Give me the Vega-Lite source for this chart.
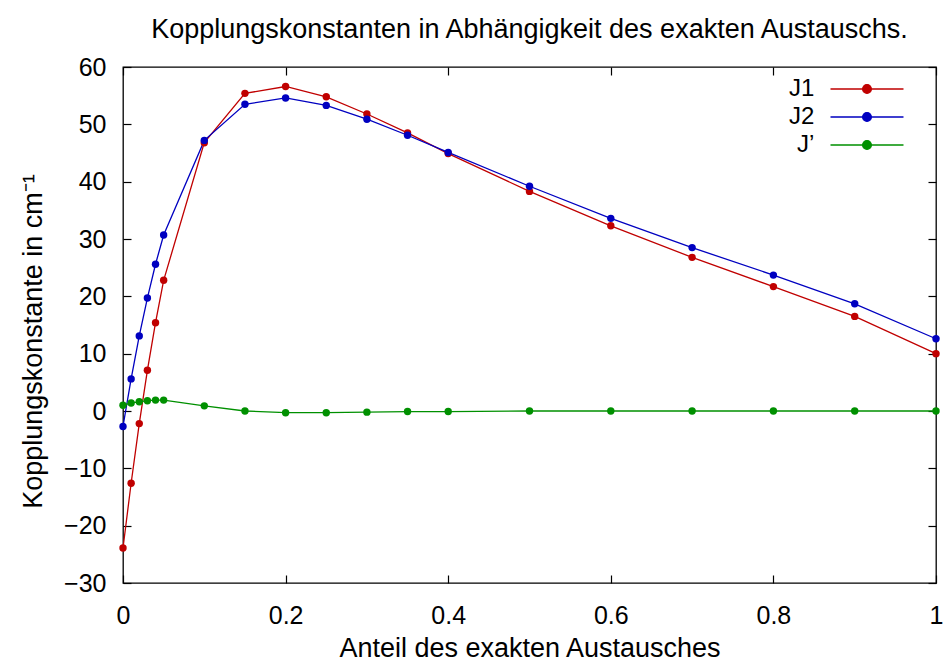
{
  "$schema": "https://vega.github.io/schema/vega-lite/v6.json",
  "width": 813,
  "height": 516,
  "autosize": {"type": "none"},
  "padding": {"left": 123, "top": 67, "right": 8, "bottom": 81},
  "background": "white",
  "title": {
    "text": "Kopplungskonstanten in Abhängigkeit des exakten Austauschs.",
    "fontSize": 27,
    "fontWeight": "normal",
    "font": "Liberation Sans",
    "color": "black",
    "anchor": "middle",
    "offset": 11
  },
  "data": {
    "values": [
      {"x": 0, "series": "J1", "value": -23.9},
      {"x": 0.01, "series": "J1", "value": -12.6},
      {"x": 0.02, "series": "J1", "value": -2.2},
      {"x": 0.03, "series": "J1", "value": 7.1},
      {"x": 0.04, "series": "J1", "value": 15.4},
      {"x": 0.05, "series": "J1", "value": 22.8},
      {"x": 0.1, "series": "J1", "value": 46.8},
      {"x": 0.15, "series": "J1", "value": 55.4},
      {"x": 0.2, "series": "J1", "value": 56.6},
      {"x": 0.25, "series": "J1", "value": 54.8},
      {"x": 0.3, "series": "J1", "value": 51.8},
      {"x": 0.35, "series": "J1", "value": 48.5},
      {"x": 0.4, "series": "J1", "value": 44.9},
      {"x": 0.5, "series": "J1", "value": 38.3},
      {"x": 0.6, "series": "J1", "value": 32.3},
      {"x": 0.7, "series": "J1", "value": 26.8},
      {"x": 0.8, "series": "J1", "value": 21.7},
      {"x": 0.9, "series": "J1", "value": 16.5},
      {"x": 1, "series": "J1", "value": 10.0},
      {"x": 0, "series": "J2", "value": -2.7},
      {"x": 0.01, "series": "J2", "value": 5.6},
      {"x": 0.02, "series": "J2", "value": 13.1},
      {"x": 0.03, "series": "J2", "value": 19.7},
      {"x": 0.04, "series": "J2", "value": 25.6},
      {"x": 0.05, "series": "J2", "value": 30.7},
      {"x": 0.1, "series": "J2", "value": 47.2},
      {"x": 0.15, "series": "J2", "value": 53.5},
      {"x": 0.2, "series": "J2", "value": 54.6},
      {"x": 0.25, "series": "J2", "value": 53.3},
      {"x": 0.3, "series": "J2", "value": 50.9},
      {"x": 0.35, "series": "J2", "value": 48.1},
      {"x": 0.4, "series": "J2", "value": 45.1},
      {"x": 0.5, "series": "J2", "value": 39.2},
      {"x": 0.6, "series": "J2", "value": 33.6},
      {"x": 0.7, "series": "J2", "value": 28.5},
      {"x": 0.8, "series": "J2", "value": 23.7},
      {"x": 0.9, "series": "J2", "value": 18.7},
      {"x": 1, "series": "J2", "value": 12.6},
      {"x": 0, "series": "J’", "value": 1.0},
      {"x": 0.01, "series": "J’", "value": 1.4},
      {"x": 0.02, "series": "J’", "value": 1.6},
      {"x": 0.03, "series": "J’", "value": 1.8},
      {"x": 0.04, "series": "J’", "value": 1.9},
      {"x": 0.05, "series": "J’", "value": 1.9},
      {"x": 0.1, "series": "J’", "value": 0.9},
      {"x": 0.15, "series": "J’", "value": 0.0},
      {"x": 0.2, "series": "J’", "value": -0.3},
      {"x": 0.25, "series": "J’", "value": -0.3},
      {"x": 0.3, "series": "J’", "value": -0.2},
      {"x": 0.35, "series": "J’", "value": -0.1},
      {"x": 0.4, "series": "J’", "value": -0.1},
      {"x": 0.5, "series": "J’", "value": 0.0},
      {"x": 0.6, "series": "J’", "value": 0.0},
      {"x": 0.7, "series": "J’", "value": 0.0},
      {"x": 0.8, "series": "J’", "value": 0.0},
      {"x": 0.9, "series": "J’", "value": 0.0},
      {"x": 1, "series": "J’", "value": 0.0}
    ]
  },
  "layer": [
    {
      "mark": {"type": "line", "strokeWidth": 1.3, "clip": false},
      "encoding": {
        "x": {
          "field": "x", "type": "quantitative",
          "scale": {"domain": [0, 1], "nice": false, "zero": false},
          "axis": {"orient": "top", "labels": false, "title": null, "values": [0, 0.2, 0.4, 0.6, 0.8, 1], "tickSize": -8, "domain": false, "grid": false}
        },
        "y": {
          "field": "value", "type": "quantitative",
          "scale": {"domain": [-30, 60], "nice": false, "zero": false},
          "axis": {"orient": "right", "labels": false, "title": null, "values": [-30, -20, -10, 0, 10, 20, 30, 40, 50, 60], "tickSize": -8, "domain": false, "grid": false}
        },
        "color": {
          "field": "series", "type": "nominal",
          "scale": {"domain": ["J1", "J2", "J’"], "range": ["#c00000", "#0000c0", "#009000"]}
        }
      }
    },
    {
      "mark": {"type": "point", "filled": true, "size": 55, "opacity": 1, "shape": "circle", "clip": false},
      "encoding": {
        "x": {
          "field": "x", "type": "quantitative",
          "axis": {"orient": "bottom", "title": "Anteil des exakten Austausches", "values": [0, 0.2, 0.4, 0.6, 0.8, 1], "format": "~g", "tickSize": -8, "labelPadding": 28, "labelFlush": false, "titlePadding": 7, "domain": false, "grid": false}
        },
        "y": {
          "field": "value", "type": "quantitative",
          "axis": {"orient": "left", "title": "Kopplungskonstante in cm⁻¹", "values": [-30, -20, -10, 0, 10, 20, 30, 40, 50, 60], "tickSize": -8, "labelPadding": 25, "labelFlush": false, "titleX": -76, "titleY": 274, "domain": false, "grid": false}
        },
        "color": {
          "field": "series", "type": "nominal"
        }
      }
    }
  ],
  "resolve": {"axis": {"x": "independent", "y": "independent"}},
  "config": {
    "view": {"stroke": "black", "strokeWidth": 1.3},
    "font": "Liberation Sans",
    "axis": {
      "labelFont": "Liberation Sans",
      "labelFontSize": 25,
      "labelColor": "black",
      "titleFont": "Liberation Sans",
      "titleFontSize": 27,
      "titleFontWeight": "normal",
      "titleColor": "black",
      "tickColor": "black",
      "tickWidth": 1.2
    },
    "legend": {
      "orient": "none",
      "legendX": 731,
      "legendY": 9,
      "title": null,
      "padding": 0,
      "symbolType": "M-3,0H3M-0.36,0A0.36,0.36 0 1,1 0.36,0A0.36,0.36 0 1,1 -0.36,0Z",
      "symbolSize": 592,
      "symbolStrokeWidth": 1.3,
      "symbolOpacity": 1,
      "labelAlign": "right",
      "labelOffset": -65.6,
      "labelFontSize": 24,
      "labelFont": "Liberation Sans",
      "labelColor": "black",
      "rowPadding": 3
    }
  }
}
